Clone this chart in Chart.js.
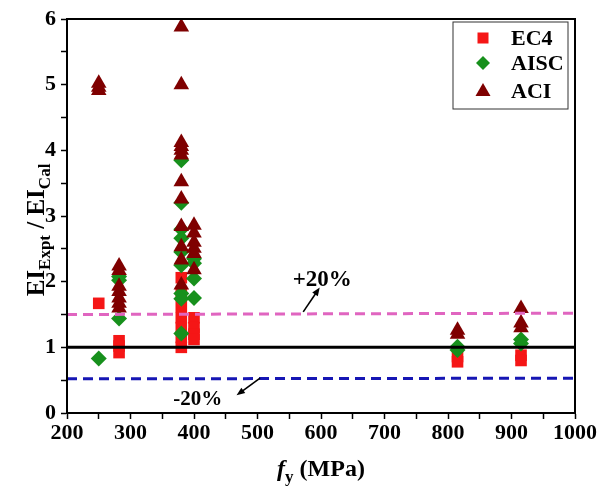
<!DOCTYPE html>
<html>
<head>
<meta charset="utf-8">
<script src="https://cdn.jsdelivr.net/npm/chart.js"></script>
<style>
  html, body { margin: 0; padding: 0; background: #fff; }
</style>
</head>
<body>
<canvas id="chart" width="601" height="493"></canvas>
<script>
// EI_Expt / EI_Cal against steel yield strength, three design codes

const ec4Fy    = [250, 282, 282, 282, 380, 380, 380, 380, 380, 380, 380, 400, 400, 400, 400, 815, 815, 915, 915];
const ec4Ratio = [1.67, 1.10, 1.02, 0.92, 2.06, 1.80, 1.62, 1.45, 1.30, 1.15, 1.00, 1.45, 1.30, 1.20, 1.12, 0.86, 0.78, 0.88, 0.80];

const aiscFy    = [250, 282, 282, 282, 380, 380, 380, 380, 380, 380, 380, 380, 380, 400, 400, 400, 400, 815, 815, 915, 915];
const aiscRatio = [0.83, 2.08, 2.02, 1.44, 3.85, 3.20, 2.80, 2.66, 2.45, 2.25, 1.82, 1.74, 1.21, 2.35, 2.28, 2.05, 1.75, 1.01, 0.96, 1.12, 1.06];

const aciFy    = [250, 250, 250, 282, 282, 282, 282, 282, 282, 282, 380, 380, 380, 380, 380, 380, 380, 380, 380, 380, 380, 380, 400, 400, 400, 400, 400, 400, 815, 815, 915, 915, 915];
const aciRatio = [5.02, 4.96, 4.91, 2.24, 2.17, 1.93, 1.85, 1.75, 1.67, 1.60, 5.88, 5.00, 4.12, 4.06, 4.00, 3.93, 3.52, 3.26, 2.84, 2.53, 2.33, 1.95, 2.86, 2.74, 2.60, 2.51, 2.43, 2.18, 1.26, 1.20, 1.59, 1.37, 1.30];

// reference lines: exact prediction and the +/-20% bands
const lineFy    = [200, 1000];
const exactLine = [1, 1];
const upperLine = [1.5, 1.52];
const lowerLine = [0.52, 0.53];

const xTicks = [200, 300, 400, 500, 600, 700, 800, 900, 1000];
const yTicks = [0, 1, 2, 3, 4, 5, 6];

const seriesNames = ['EC4', 'AISC', 'ACI'];

const RED = '#f51616';
const GREEN = '#17901c';
const DARKRED = '#7f0000';
const SERIF = '"Liberation Serif", "Times New Roman", serif';

function toPoints(xs, ys) {
    return xs.map((x, i) => ({ x: x, y: ys[i] }));
}

function refLine(ys, color, dash) {
    return {
        type: 'line',
        data: toPoints(lineFy, ys),
        borderColor: color,
        borderWidth: 3,
        borderDash: dash,
        pointRadius: 0,
        showLine: true,
        fill: false,
        order: 0
    };
}

// draws a run of text pieces, some of them subscripts
function drawRich(ctx, parts, cx, baseline) {
    const widths = parts.map(p => {
        ctx.font = (p.italic ? 'italic ' : '') + 'bold ' + p.size + 'px ' + SERIF;
        return ctx.measureText(p.text).width;
    });
    let x = cx - widths.reduce((a, b) => a + b, 0) / 2;
    parts.forEach((p, i) => {
        ctx.font = (p.italic ? 'italic ' : '') + 'bold ' + p.size + 'px ' + SERIF;
        ctx.fillText(p.text, x, baseline + (p.sub ? 6 : 0));
        x += widths[i];
    });
}

function arrow(ctx, x1, y1, x2, y2) {
    const ang = Math.atan2(y2 - y1, x2 - x1);
    const head = 9;
    ctx.beginPath();
    ctx.moveTo(x1, y1);
    ctx.lineTo(x2 - Math.cos(ang) * head * 0.6, y2 - Math.sin(ang) * head * 0.6);
    ctx.lineWidth = 1.6;
    ctx.stroke();
    ctx.beginPath();
    ctx.moveTo(x2, y2);
    ctx.lineTo(x2 - head * Math.cos(ang - 0.38), y2 - head * Math.sin(ang - 0.38));
    ctx.lineTo(x2 - head * Math.cos(ang + 0.38), y2 - head * Math.sin(ang + 0.38));
    ctx.closePath();
    ctx.fill();
}

// text labels for the bands, placed in data units
const bandNotes = [
    { text: '+20%', x: 602, y: 2.02, size: 23, from: [572, 1.54], to: [598, 1.91] },
    { text: '-20%', x: 406, y: 0.20, size: 21, from: [504, 0.53], to: [467, 0.27] }
];

const framePlugin = {
    id: 'frame',
    afterDraw(chart) {
        const { ctx, chartArea: a, scales } = chart;
        ctx.save();
        ctx.strokeStyle = '#000';
        ctx.lineWidth = 2;
        ctx.strokeRect(a.left, a.top, a.right - a.left, a.bottom - a.top);

        // band notes
        ctx.fillStyle = '#000';
        ctx.strokeStyle = '#000';
        ctx.textAlign = 'center';
        ctx.textBaseline = 'middle';
        bandNotes.forEach(n => {
            ctx.font = 'bold ' + n.size + 'px ' + SERIF;
            ctx.fillText(n.text, scales.x.getPixelForValue(n.x), scales.y.getPixelForValue(n.y));
            arrow(ctx,
                scales.x.getPixelForValue(n.from[0]), scales.y.getPixelForValue(n.from[1]),
                scales.x.getPixelForValue(n.to[0]), scales.y.getPixelForValue(n.to[1]));
        });

        // axis titles
        ctx.textAlign = 'left';
        ctx.textBaseline = 'alphabetic';
        drawRich(ctx, [
            { text: 'f', size: 24, italic: true },
            { text: 'y', size: 17, sub: true },
            { text: ' (MPa)', size: 24 }
        ], (a.left + a.right) / 2, 476);

        ctx.save();
        ctx.translate(36, 230);
        ctx.rotate(-Math.PI / 2);
        drawRich(ctx, [
            { text: 'EI', size: 25 },
            { text: 'Expt', size: 17, sub: true },
            { text: ' / ', size: 25 },
            { text: 'EI', size: 25 },
            { text: 'Cal', size: 17, sub: true }
        ], 0, 8);
        ctx.restore();

        // legend box
        const lx = 453, ly = 22, lw = 115, lh = 87;
        ctx.lineWidth = 1;
        ctx.strokeStyle = '#333';
        ctx.strokeRect(lx, ly, lw, lh);
        const rowY = [38, 63, 91];
        const mx = 483;
        ctx.fillStyle = RED;
        ctx.fillRect(mx - 5.5, rowY[0] - 5.5, 11, 11);
        ctx.fillStyle = GREEN;
        ctx.beginPath();
        ctx.moveTo(mx, rowY[1] - 7);
        ctx.lineTo(mx + 7, rowY[1]);
        ctx.lineTo(mx, rowY[1] + 7);
        ctx.lineTo(mx - 7, rowY[1]);
        ctx.closePath();
        ctx.fill();
        ctx.fillStyle = DARKRED;
        ctx.beginPath();
        ctx.moveTo(mx, rowY[2] - 8);
        ctx.lineTo(mx + 7.5, rowY[2] + 5);
        ctx.lineTo(mx - 7.5, rowY[2] + 5);
        ctx.closePath();
        ctx.fill();
        ctx.fillStyle = '#000';
        ctx.textBaseline = 'middle';
        ctx.font = 'bold 22px ' + SERIF;
        seriesNames.forEach((s, i) => ctx.fillText(s, 511, rowY[i] + 1));
        ctx.restore();
    }
};

const tickFont = { family: SERIF, weight: 'bold', size: 22 };

new Chart(document.getElementById('chart'), {
    type: 'scatter',
    data: {
        datasets: [
            refLine(exactLine, '#000', []),
            refLine(upperLine, '#e065c0', [10, 6]),
            refLine(lowerLine, '#1616b4', [10, 6]),
            {
                label: seriesNames[2],
                data: toPoints(aciFy, aciRatio),
                pointStyle: 'triangle',
                pointRadius: 9,
                pointBackgroundColor: DARKRED,
                pointBorderWidth: 0,
                order: 1
            },
            {
                label: seriesNames[1],
                data: toPoints(aiscFy, aiscRatio),
                pointStyle: 'rectRot',
                pointRadius: 8,
                pointBackgroundColor: GREEN,
                pointBorderWidth: 0,
                order: 2
            },
            {
                label: seriesNames[0],
                data: toPoints(ec4Fy, ec4Ratio),
                pointStyle: 'rect',
                pointRadius: 8.2,
                pointBackgroundColor: RED,
                pointBorderWidth: 0,
                order: 3
            }
        ]
    },
    options: {
        responsive: false,
        animation: false,
        layout: { padding: { top: 19, right: 26, left: 0, bottom: 0 } },
        plugins: {
            legend: { display: false },
            tooltip: { enabled: false }
        },
        scales: {
            x: {
                type: 'linear',
                min: 200,
                max: 1000,
                afterFit: s => { s.height = 80; },
                ticks: {
                    stepSize: 50,
                    autoSkip: false,
                    maxRotation: 0,
                    padding: 1,
                    color: '#000',
                    font: tickFont,
                    callback: v => xTicks.includes(v) ? String(v) : ''
                },
                grid: { drawOnChartArea: false, drawTicks: true, tickLength: 6, tickColor: '#000', tickWidth: 1.5 },
                border: { color: '#000', width: 2 }
            },
            y: {
                min: 0,
                max: 6,
                afterFit: s => { s.width = 67; },
                ticks: {
                    stepSize: 0.5,
                    autoSkip: false,
                    padding: 5,
                    color: '#000',
                    font: tickFont,
                    callback: v => yTicks.includes(v) ? String(v) : ''
                },
                grid: { drawOnChartArea: false, drawTicks: true, tickLength: 6, tickColor: '#000', tickWidth: 1.5 },
                border: { color: '#000', width: 2 }
            }
        }
    },
    plugins: [framePlugin]
});
</script>
</body>
</html>
